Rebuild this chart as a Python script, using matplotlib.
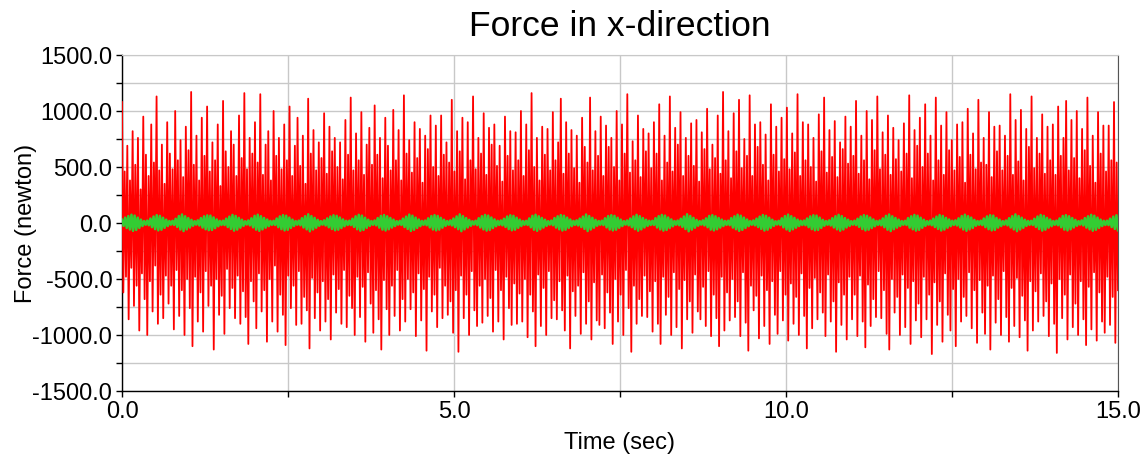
import numpy as np
import matplotlib
matplotlib.use("Agg")
import matplotlib.pyplot as plt
from matplotlib.ticker import MultipleLocator, FormatStrFormatter

plt.rcParams['font.family'] = ['Liberation Sans', 'DejaVu Sans']
plt.rcParams['axes.unicode_minus'] = False

title = "Force in x-direction"
xlabel = "Time (sec)"
ylabel = "Force (newton)"
t_start, t_end = 0.0, 15.0

# red series: upper and lower spike peaks (25 per second)
red_upper = [
    1080, 460, 690, 380, 820, 520, 760, 300, 950, 610, 420, 880, 540, 1130, 470, 700, 350, 900, 620, 480, 1000, 560, 740, 410, 860,
    650, 1170, 520, 780, 380, 940, 600, 1040, 460, 720, 560, 880, 330, 1090, 640, 500, 820, 700, 420, 960, 580, 1160, 480, 760, 620,
    900, 540, 1150, 430, 700, 820, 380, 1000, 600, 760, 480, 880, 560, 1040, 420, 690, 940, 510, 780, 350, 1110, 620, 830, 470, 720,
    580, 980, 440, 860, 640, 760, 500, 720, 390, 920, 610, 1120, 470, 800, 560, 990, 430, 700, 850, 520, 1050, 610, 760, 400, 940,
    690, 470, 1010, 560, 830, 380, 1140, 620, 740, 450, 900, 580, 840, 360, 780, 660, 960, 500, 870, 420, 960, 610, 720, 540, 1100,
    460, 820, 640, 940, 390, 900, 560, 1130, 480, 760, 620, 980, 430, 850, 700, 880, 510, 690, 370, 950, 600, 820, 470, 810, 560,
    1000, 420, 880, 650, 1160, 500, 760, 380, 860, 610, 840, 470, 990, 560, 720, 1110, 440, 900, 620, 830, 490, 780, 360, 940, 680,
    540, 1120, 470, 820, 600, 950, 420, 870, 680, 760, 500, 1000, 380, 880, 620, 1150, 450, 730, 560, 960, 410, 840, 640, 800, 490,
    900, 620, 1060, 380, 780, 540, 1130, 460, 850, 700, 990, 420, 760, 600, 890, 510, 920, 370, 810, 660, 1020, 480, 700, 580, 960,
    440, 1170, 560, 820, 400, 980, 640, 1100, 490, 750, 600, 1140, 420, 880, 680, 900, 520, 790, 380, 1060, 610, 860, 460, 940, 570,
    1030, 480, 800, 630, 1150, 420, 900, 560, 880, 500, 760, 370, 970, 640, 1120, 450, 830, 590, 910, 410, 720, 660, 950, 530, 860,
    600, 1090, 440, 780, 560, 1000, 390, 920, 650, 1130, 480, 810, 610, 960, 430, 850, 570, 740, 460, 890, 620, 1140, 400, 830, 690,
    940, 500, 1060, 620, 780, 380, 1120, 560, 870, 430, 990, 650, 740, 470, 880, 590, 900, 360, 1020, 610, 800, 480, 1100, 540, 760,
    520, 990, 410, 860, 640, 870, 470, 780, 600, 1150, 430, 920, 550, 1010, 380, 840, 680, 1130, 490, 760, 620, 970, 440, 860, 560,
    880, 430, 1040, 600, 760, 1090, 470, 920, 580, 1000, 400, 840, 650, 1120, 510, 780, 360, 990, 620, 870, 460, 870, 560, 1080, 540,
]
red_lower = [
    -620, -480, -860, -400, -740, -560, -960, -450, -680, -1000, -520, -790, -380, -900, -640, -850, -470, -720, -560, -950, -420, -830, -600, -1000, -500,
    -760, -1100, -480, -880, -620, -970, -430, -740, -560, -1130, -500, -820, -650, -990, -410, -760, -580, -850, -470, -900, -610, -840, -1080, -520, -700,
    -940, -450, -790, -600, -1060, -500, -880, -380, -970, -640, -820, -1090, -470, -760, -560, -910, -430, -900, -660, -780, -1120, -490, -850, -620, -960,
    -520, -880, -680, -1040, -460, -800, -590, -900, -420, -930, -650, -760, -1000, -480, -840, -570, -1060, -440, -720, -980, -600, -860, -1130, -510, -770,
    -1000, -560, -830, -420, -960, -680, -880, -500, -770, -620, -1010, -450, -870, -590, -1140, -480, -790, -640, -930, -400, -850, -560, -820, -700, -980,
    -600, -1150, -470, -850, -640, -1000, -430, -780, -920, -560, -890, -500, -830, -670, -970, -420, -880, -600, -1040, -480, -760, -910, -540, -900, -630,
    -880, -500, -1020, -640, -790, -1100, -460, -920, -580, -1000, -430, -850, -690, -860, -520, -780, -960, -470, -1120, -610, -830, -560, -990, -440, -900,
    -700, -1040, -530, -870, -910, -460, -940, -620, -800, -1080, -500, -880, -640, -1000, -420, -760, -1150, -560, -900, -680, -830, -470, -840, -610, -970,
    -520, -900, -1080, -480, -820, -660, -1000, -440, -930, -590, -1120, -510, -860, -700, -980, -460, -790, -860, -570, -920, -430, -1010, -640, -850, -1100,
    -480, -960, -620, -870, -500, -840, -700, -1010, -440, -890, -1140, -560, -780, -650, -1030, -470, -920, -600, -1080, -520, -820, -990, -430, -870, -640,
    -1050, -540, -900, -660, -1000, -450, -830, -1120, -580, -940, -490, -860, -620, -800, -1010, -460, -880, -700, -1150, -530, -910, -640, -1040, -480, -860,
    -640, -1010, -470, -880, -1110, -550, -920, -680, -840, -430, -850, -600, -990, -1130, -500, -800, -660, -1000, -460, -930, -580, -1080, -520, -870, -720,
    -1020, -480, -860, -640, -1170, -530, -910, -700, -1060, -450, -820, -960, -590, -1100, -500, -880, -660, -830, -440, -940, -600, -1070, -510, -800, -990,
    -560, -1130, -470, -890, -680, -1000, -430, -840, -1060, -580, -920, -490, -1020, -650, -870, -1140, -520, -960, -610, -880, -450, -830, -700, -1010, -540,
    -900, -1160, -500, -850, -640, -1040, -460, -930, -720, -1000, -520, -860, -1090, -570, -950, -440, -1050, -620, -880, -980, -480, -910, -660, -1070, -600,
]

# green series: upper and lower peaks of the small beating signal (20 per second)
green_upper = [
    30, 48, 62, 74, 66, 48, 30, 18,  22, 40, 58, 70, 64, 47, 30, 18,  20, 38, 62, 76, 60, 44, 28, 17,
    24, 44, 60, 68, 66, 50, 32, 20,  21, 39, 57, 72, 63, 46, 29, 16,  23, 42, 64, 74, 61, 45, 31, 19,
    20, 40, 59, 70, 65, 48, 30, 18,  22, 43, 61, 78, 62, 46, 28, 17,  24, 41, 58, 69, 64, 49, 32, 20,
    21, 38, 60, 73, 66, 47, 29, 18,  23, 44, 63, 71, 60, 45, 30, 17,  20, 39, 57, 75, 65, 48, 31, 19,
    22, 42, 62, 70, 63, 46, 29, 18,  24, 40, 59, 77, 61, 44, 28, 16,  21, 43, 61, 72, 66, 49, 32, 20,
    23, 38, 58, 69, 64, 47, 30, 18,  20, 41, 64, 74, 60, 45, 29, 17,  22, 44, 60, 71, 65, 48, 31, 19,
    24, 39, 57, 76, 62, 46, 28, 18,  21, 42, 62, 70, 64, 47, 30, 17,  23, 40, 59, 73, 61, 44, 29, 20,
    20, 43, 61, 72, 66, 49, 32, 18,  22, 38, 58, 78, 63, 46, 28, 17,  24, 41, 63, 70, 60, 45, 30, 19,
    21, 44, 60, 74, 65, 48, 31, 18,  23, 39, 57, 71, 64, 47, 29, 16,  20, 42, 62, 75, 61, 46, 30, 20,
    22, 40, 59, 69, 66, 48, 28, 18,  24, 43, 61, 73, 62, 44, 29, 17,  21, 38, 58, 70, 64, 49, 32, 19,
    23, 41, 64, 76, 60, 45, 30, 18,  20, 44, 60, 72, 65, 47, 29, 17,  22, 39, 57, 71, 63, 46, 31, 20,
    24, 42, 62, 74, 61, 48, 28, 18,  21, 40, 59, 70, 66, 45, 30, 17,  23, 43, 61, 77, 62, 47, 29, 19,
    20, 38, 58, 72, 64, 46, 31, 18,  22, 41, 63, 70, 60, 44, 28, 17,  24, 44, 60, 73, 65, 48, 30, 20,
    21, 39, 57, 69,
]
green_lower = [
    -26, -44, -58, -70, -62, -44, -27, -16,  -20, -37, -55, -66, -60, -43, -27, -15,  -18, -35, -58, -72, -57, -41, -25, -15,
    -22, -41, -56, -64, -62, -46, -29, -18,  -19, -36, -53, -68, -59, -42, -26, -14,  -21, -39, -60, -70, -57, -42, -28, -17,
    -18, -37, -55, -66, -61, -44, -27, -16,  -20, -40, -57, -74, -58, -42, -25, -15,  -22, -38, -54, -65, -60, -45, -29, -18,
    -19, -35, -56, -69, -62, -43, -26, -16,  -21, -41, -59, -67, -56, -41, -27, -15,  -18, -36, -53, -71, -61, -44, -28, -17,
    -20, -39, -58, -66, -59, -42, -26, -16,  -22, -37, -55, -73, -57, -40, -25, -14,  -19, -40, -57, -68, -62, -45, -29, -18,
    -21, -35, -54, -65, -60, -43, -27, -16,  -18, -38, -60, -70, -56, -41, -26, -15,  -20, -41, -56, -67, -61, -44, -28, -17,
    -22, -36, -53, -72, -58, -42, -25, -16,  -19, -39, -58, -66, -60, -43, -27, -15,  -21, -37, -55, -69, -57, -40, -26, -18,
    -18, -40, -57, -68, -62, -45, -29, -16,  -20, -35, -54, -74, -59, -42, -25, -15,  -22, -38, -59, -66, -56, -41, -27, -17,
    -19, -41, -56, -70, -61, -44, -28, -16,  -21, -36, -53, -67, -60, -43, -26, -14,  -18, -39, -58, -71, -57, -42, -27, -18,
    -20, -37, -55, -65, -62, -44, -25, -16,  -22, -40, -57, -69, -58, -40, -26, -15,  -19, -35, -54, -66, -60, -45, -29, -17,
    -21, -38, -60, -72, -56, -41, -27, -16,  -18, -41, -56, -68, -61, -43, -26, -15,  -20, -36, -53, -67, -59, -42, -28, -18,
    -22, -39, -58, -70, -57, -44, -25, -16,  -19, -37, -55, -66, -62, -41, -27, -15,  -21, -40, -57, -73, -58, -43, -26, -17,
    -18, -35, -54, -68, -60, -42, -28, -16,  -20, -38, -59, -66, -56, -40, -25, -15,  -22, -41, -56, -69, -61, -44, -27, -18,
    -19, -36, -53, -65,
]

red_vals = np.empty(2 * len(red_upper))
red_vals[0::2] = red_upper
red_vals[1::2] = red_lower
red_t = np.linspace(t_start, t_end, len(red_vals))

green_vals = np.empty(2 * len(green_upper))
green_vals[0::2] = green_upper
green_vals[1::2] = green_lower
green_t = np.linspace(t_start, t_end, len(green_vals))

fig = plt.figure(figsize=(11.47, 4.59), dpi=100)
ax = fig.add_axes([122 / 1147, 1 - 391 / 459, (1118 - 122) / 1147, (391 - 55) / 459])

ax.plot(red_t, red_vals, color='#ff0000', lw=1.3, zorder=3)
ax.plot(green_t, green_vals, color='#33cc33', lw=1.8, zorder=4)

ax.set_xlim(t_start, t_end)
ax.set_ylim(-1500, 1500)
ax.xaxis.set_major_locator(MultipleLocator(5))
ax.xaxis.set_minor_locator(MultipleLocator(2.5))
ax.yaxis.set_major_locator(MultipleLocator(500))
ax.yaxis.set_minor_locator(MultipleLocator(250))
ax.xaxis.set_major_formatter(FormatStrFormatter('%.1f'))
ax.yaxis.set_major_formatter(FormatStrFormatter('%.1f'))

ax.grid(True, which='both', color='#c8c8c8', lw=1.0, zorder=0)
ax.set_axisbelow(True)
ax.tick_params(which='both', direction='out', length=4, width=1, colors='black', labelsize=17)
ax.tick_params(axis='x', which='major', pad=3)
ax.tick_params(axis='y', which='major', pad=3)
ax.tick_params(top=False, right=False)

for s in ['left', 'bottom']:
    ax.spines[s].set_color('black')
    ax.spines[s].set_linewidth(1.0)
ax.spines['top'].set_color('#c8c8c8')
ax.spines['right'].set_color('#555555')

ax.set_title(title, fontsize=25.5, pad=14)
ax.set_xlabel(xlabel, fontsize=17, labelpad=7)
ax.set_ylabel(ylabel, fontsize=17, labelpad=-3)

fig.savefig('out.png', dpi=100)
